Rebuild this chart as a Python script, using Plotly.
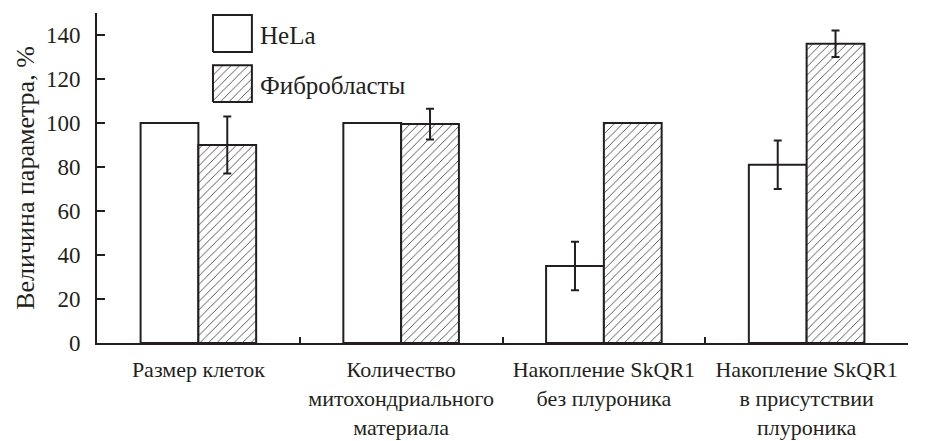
import plotly.graph_objects as go

# Categories and measured values (% of control)
categories = [
    "Размер клеток",
    "Количество<br>митохондриального<br>материала",
    "Накопление SkQR1<br>без плуроника",
    "Накопление SkQR1<br>в присутствии<br>плуроника",
]
hela_values = [100, 100, 35, 81]
hela_errors = [0, 0, 11, 11]
fibro_values = [90, 99.5, 100, 136]
fibro_errors = [13, 7, 0, 6]
series_names = ["HeLa", "Фибробласты"]
y_ticks = [0, 20, 40, 60, 80, 100, 120, 140]

FONT = "Liberation Serif"
INK = "#231f20"
positions = list(range(len(categories)))

hatch = dict(shape="/", size=6, solidity=0.14, fgcolor="#3a3a3a", bgcolor="white", fillmode="replace")

fig = go.Figure()
fig.add_trace(go.Bar(
    x=positions, y=hela_values, name=series_names[0],
    marker=dict(color="white", line=dict(color=INK, width=2)),
    error_y=dict(type="data", array=hela_errors, color=INK, thickness=2, width=4),
    showlegend=False,
))
fig.add_trace(go.Bar(
    x=positions, y=fibro_values, name=series_names[1],
    marker=dict(color="white", pattern=hatch, line=dict(color=INK, width=2)),
    error_y=dict(type="data", array=fibro_errors, color=INK, thickness=2, width=4),
    showlegend=False,
))

# Legend keys drawn as outlined boxes on an overlay axis spanning the plot area
key_x = [0.143, 0.191]
key_rows = [(0.882, 0.994), (0.730, 0.842)]
for i, (y0, y1) in enumerate(key_rows):
    fig.add_trace(go.Scatter(
        x=[key_x[0], key_x[1], key_x[1], key_x[0], key_x[0]],
        y=[y0, y0, y1, y1, y0],
        mode="lines", fill="toself",
        fillcolor="white",
        fillpattern=hatch if i == 1 else None,
        line=dict(color=INK, width=2),
        xaxis="x2", yaxis="y2", showlegend=False, hoverinfo="skip",
    ))
    fig.add_annotation(
        x=0.198, y=(y0 + y1) / 2 - 0.006, xref="paper", yref="paper",
        text=series_names[i], showarrow=False, xanchor="left", yanchor="middle",
        font=dict(family=FONT, size=25, color=INK),
    )

fig.update_layout(
    width=935, height=441,
    margin=dict(l=97, r=27, t=13, b=98),
    paper_bgcolor="white", plot_bgcolor="white",
    barmode="group", bargap=0.43, bargroupgap=0,
    font=dict(family=FONT, size=22, color=INK),
    xaxis=dict(
        range=[-0.5, len(categories) - 0.5],
        tickmode="array", tickvals=positions, ticktext=categories,
        ticks="", showgrid=False, zeroline=False, automargin=False, tickangle=0,
        showline=True, linecolor=INK, linewidth=2,
        minor=dict(tickmode="array", tickvals=[p + 0.5 for p in positions[:-1]],
                   ticks="inside", ticklen=6, tickwidth=1.5, tickcolor=INK, showgrid=False),
        tickfont=dict(family=FONT, size=22, color=INK),
        ticklabelstandoff=6,
    ),
    yaxis=dict(
        range=[0, 150], tickmode="array", tickvals=y_ticks,
        ticks="inside", ticklen=8, tickwidth=1.5, tickcolor=INK,
        showgrid=False, zeroline=False, automargin=False,
        showline=True, linecolor=INK, linewidth=2,
        tickfont=dict(family=FONT, size=23, color=INK),
        ticklabelstandoff=10,
        title=dict(text="Величина параметра, %", font=dict(family=FONT, size=26, color=INK), standoff=4),
    ),
    xaxis2=dict(range=[0, 1], overlaying="x", visible=False, fixedrange=True),
    yaxis2=dict(range=[0, 1], overlaying="y", visible=False, fixedrange=True),
)

fig.write_html("out.html")
